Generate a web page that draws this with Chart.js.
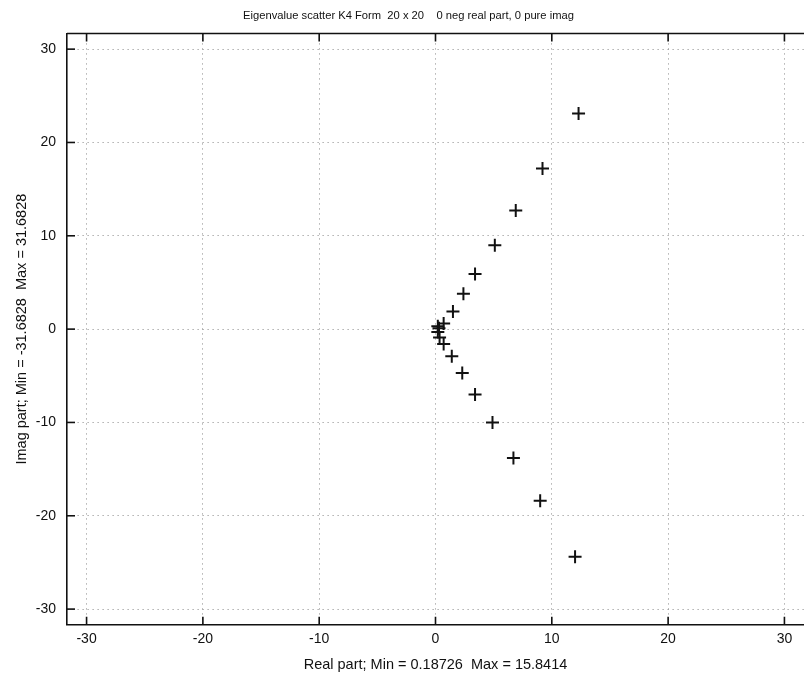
<!DOCTYPE html>
<html>
<head>
<meta charset="utf-8">
<script src="https://cdn.jsdelivr.net/npm/chart.js@4.4.1/dist/chart.umd.min.js"></script>
<style>
  html, body { margin: 0; padding: 0; background: #fff; }
  #wrap { width: 804px; height: 677px; }
</style>
</head>
<body>
<div id="wrap"><canvas id="eigChart" width="804" height="677"></canvas></div>
<script>
// eigenvalues
const realPart = [12.3, 9.2, 6.9, 5.1, 3.4, 2.4, 1.5, 0.7, 0.3, 0.2,
                  0.2, 0.35, 0.7, 1.4, 2.3, 3.4, 4.9, 6.7, 9.0, 12.0];
const imagPart = [23.1, 17.2, 12.7, 9.0, 5.9, 3.8, 1.9, 0.6, 0.1, 0.3,
                  -0.3, -0.9, -1.6, -2.9, -4.7, -7.0, -10.0, -13.8, -18.4, -24.4];
const xTicks = [-30, -20, -10, 0, 10, 20, 30];
const yTicks = [-30, -20, -10, 0, 10, 20, 30];
const axisLimit = 31.6828;

const titleText = "Eigenvalue scatter K4 Form  20 x 20    0 neg real part, 0 pure imag";
const xLabel = "Real part; Min = 0.18726  Max = 15.8414";
const yLabel = "Imag part; Min = -31.6828  Max = 31.6828";

const points = realPart.map((r, i) => ({ x: r, y: imagPart[i] }));

// matlab style: frame on top and tick marks pointing inward
const innerTicks = {
  id: "innerTicks",
  afterDraw(chart) {
    const ctx = chart.ctx;
    const a = chart.chartArea;
    const xs = chart.scales.x, ys = chart.scales.y;
    ctx.save();
    ctx.strokeStyle = "#111";
    ctx.lineWidth = 1.6;
    ctx.beginPath();
    ctx.moveTo(a.left, a.top);
    ctx.lineTo(a.right, a.top);
    ctx.stroke();
    xTicks.forEach(v => {
      const px = xs.getPixelForValue(v);
      ctx.beginPath();
      ctx.moveTo(px, a.bottom);
      ctx.lineTo(px, a.bottom - 8);
      ctx.moveTo(px, a.top);
      ctx.lineTo(px, a.top + 8);
      ctx.stroke();
    });
    yTicks.forEach(v => {
      const py = ys.getPixelForValue(v);
      ctx.beginPath();
      ctx.moveTo(a.left, py);
      ctx.lineTo(a.left + 8, py);
      ctx.stroke();
    });
    ctx.restore();
  }
};

const fontFam = "'Liberation Sans', Arial, sans-serif";

new Chart(document.getElementById("eigChart"), {
  type: "scatter",
  data: {
    datasets: [{
      data: points,
      pointStyle: "cross",
      pointRadius: 6.5,
      borderColor: "#111",
      backgroundColor: "#111",
      borderWidth: 2
    }]
  },
  options: {
    responsive: false,
    animation: false,
    layout: { autoPadding: false, padding: { left: 13, right: 0, top: 0, bottom: 3 } },
    plugins: {
      legend: { display: false },
      tooltip: { enabled: false },
      title: {
        display: true,
        text: titleText,
        color: "#111",
        font: { family: fontFam, size: 11.2, weight: "normal" },
        padding: { top: 9, bottom: 11 }
      }
    },
    scales: {
      x: {
        type: "linear",
        min: -axisLimit,
        max: axisLimit,
        afterBuildTicks: s => { s.ticks = xTicks.map(v => ({ value: v })); },
        ticks: { color: "#111", font: { family: fontFam, size: 14 }, padding: 6 },
        grid: { color: "#888", lineWidth: 1, drawTicks: false },
        border: { display: true, color: "#111", width: 1.6, dash: [1, 4] },
        title: {
          display: true,
          text: xLabel,
          color: "#111",
          font: { family: fontFam, size: 14.5 },
          padding: { top: 3, bottom: 0 }
        }
      },
      y: {
        type: "linear",
        min: -axisLimit,
        max: axisLimit,
        afterBuildTicks: s => { s.ticks = yTicks.map(v => ({ value: v })); },
        afterFit: s => { s.width = 54; },
        ticks: { color: "#111", font: { family: fontFam, size: 14 }, padding: 11 },
        grid: { color: "#888", lineWidth: 1, drawTicks: false },
        border: { display: true, color: "#111", width: 1.6, dash: [1, 4] },
        title: {
          display: true,
          text: yLabel,
          color: "#111",
          font: { family: fontFam, size: 14.5 },
          padding: { top: 0, bottom: 4 }
        }
      }
    }
  },
  plugins: [innerTicks]
});
</script>
</body>
</html>
